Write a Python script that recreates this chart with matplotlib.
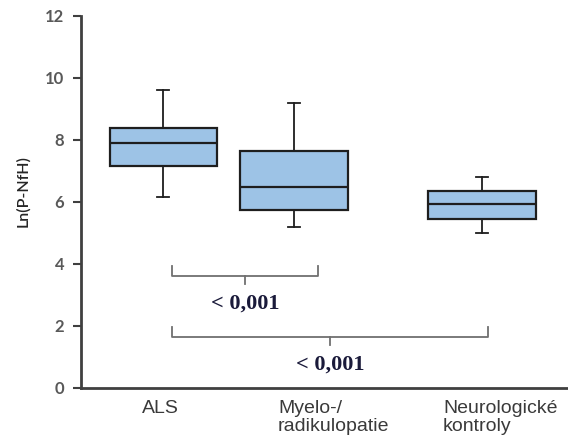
import matplotlib.pyplot as plt

# data
groups = ['ALS', 'Myelo-/\nradikulopatie', 'Neurologické\nkontroly']
whislo = [6.15, 5.2, 5.0]
q1 = [7.15, 5.75, 5.45]
med = [7.9, 6.5, 5.95]
q3 = [8.4, 7.65, 6.35]
whishi = [9.6, 9.2, 6.8]
p_values = ['< 0,001', '< 0,001']

# layout (x in units of 100 px from the y axis)
positions = [0.82, 2.13, 4.01]
label_x = [0.61, 1.97, 3.62]

fig = plt.figure(figsize=(5.68, 4.46), dpi=100)
ax = fig.add_axes([81/568, 1-388/446, 487/568, 372/446])

stats = []
for i, g in enumerate(groups):
    stats.append(dict(label=g, whislo=whislo[i], q1=q1[i], med=med[i],
                      q3=q3[i], whishi=whishi[i], fliers=[]))

edge = '#1e1e1e'
ax.bxp(stats, positions=positions, widths=1.07, patch_artist=True,
       showfliers=False,
       boxprops=dict(facecolor='#9dc3e6', edgecolor=edge, linewidth=1.6),
       medianprops=dict(color=edge, linewidth=1.6),
       whiskerprops=dict(color=edge, linewidth=1.3),
       capprops=dict(color=edge, linewidth=1.3), capwidths=0.12)

ax.set_xlim(0, 4.87)
ax.set_ylim(0, 12)
ax.set_yticks(range(0, 13, 2))
ax.set_xticks([])
for s in ['top', 'right']:
    ax.spines[s].set_visible(False)
for s in ['left', 'bottom']:
    ax.spines[s].set_color('#404040')
    ax.spines[s].set_linewidth(2)
ax.tick_params(axis='y', colors='#404040', length=6, width=1.5, pad=6)
for t in ax.get_yticklabels():
    t.set_color('#595959')
    t.set_fontsize(12)
    t.set_family('Lato')
    t.set_fontweight('bold')
ax.set_ylabel('Ln(P-NfH)', fontsize=11.5, color='#262626', family='Lato',
              fontweight='semibold')
ax.yaxis.set_label_coords(-0.104, 0.53)

# category labels
for x, lab in zip(label_x, groups):
    ax.text(x, -0.4, lab, ha='left', va='top', fontsize=14, color='#3a3a3a',
            family='Liberation Sans', linespacing=1.05, clip_on=False)

# significance brackets
br = '#707070'
brackets = [(0.91, 2.37, 3.95, 3.6), (0.91, 4.07, 1.98, 1.65)]
for (x0, x1, ytop, yh), p in zip(brackets, p_values):
    xm = (x0 + x1) / 2
    ax.plot([x0, x0, x1, x1], [ytop, yh, yh, ytop], color=br, lw=1.3)
    ax.plot([xm, xm], [yh, yh - 0.25], color=br, lw=1.3)
    ax.text(xm, yh - 0.88, p, ha='center', va='center', fontsize=16,
            fontweight='bold', family='Liberation Serif', color='#1a1a3a')

fig.savefig('out.png', dpi=100)
